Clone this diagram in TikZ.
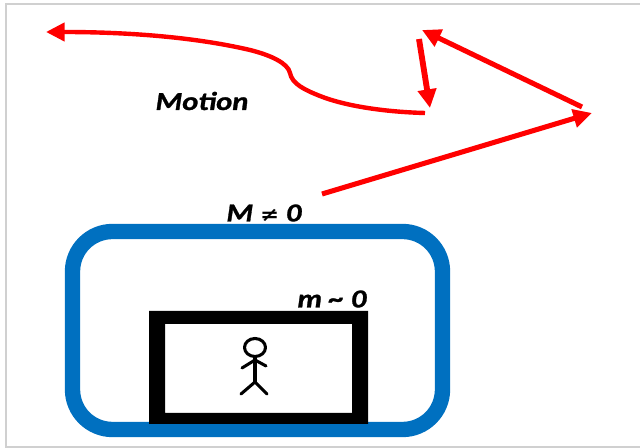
\documentclass[tikz,border=0pt]{standalone}
\usepackage{fontspec}
\newfontfamily\lblfont{Carlito Bold Italic}[FakeBold=1]
\newfontfamily\neqfont{DejaVu Sans Bold Oblique}
\usetikzlibrary{arrows.meta}
\definecolor{motionred}{RGB}{255,0,0}
\definecolor{hullblue}{RGB}{0,112,192}
\definecolor{framegray}{RGB}{208,208,208}
\tikzset{
  motion/.style={draw=motionred,line width=3.8pt,-{Triangle[length=14pt,width=13.5pt]}},
  hull/.style={draw=hullblue,line width=11.5pt,rounded corners=30pt},
  stick/.style={draw=black,line width=2.3pt,line cap=round,line join=round},
  lbl/.style={font=\fontsize{19.4pt}{21pt}\lblfont,inner sep=0pt,xscale=1.18,transform shape},
}
\begin{document}
\begin{tikzpicture}[x=0.75pt,y=-0.75pt]
\useasboundingbox (0,0) rectangle (640,448);
\fill[white] (0,0) rectangle (640,448);
% frame
\draw[framegray,line width=1.2pt] (640,4) -- (6,4) -- (6,447) -- (640,447);
% hull and cabin
\draw[hull] (72.5,231.5) rectangle (442.5,429.5);
\fill[black,even odd rule] (149,311) rectangle (368,424) (165,324) rectangle (352,413);
% person
\coordinate (neck) at (255,360);
\coordinate (hip) at (255,382);
\draw[stick] (255,347.5) ellipse[x radius=10.5,y radius=9];
\draw[stick] (255,357) -- (hip);
\draw[stick] (242,368) -- (neck) -- (266,366);
\draw[stick] (241,394) -- (hip) -- (267,394);
% motion path
\coordinate (a1) at (425,113);
\coordinate (a2) at (46,32);
\coordinate (b1) at (419,39);
\coordinate (b2) at (430,108);
\coordinate (c1) at (582,107);
\coordinate (c2) at (422,30);
\coordinate (d1) at (322,194);
\coordinate (d2) at (592,113);
\draw[motion,line width=3.3pt] (a1) .. controls (385,112) and (345,106) .. (320,96)
  .. controls (305,90) and (292,84) .. (290,73)
  .. controls (288,63) and (270,55) .. (250,50)
  .. controls (190,36) and (120,32) .. (a2);
\draw[motion,line width=4.4pt] (b1) -- (b2);
\draw[motion] (c1) -- (c2);
\draw[motion] (d1) -- (d2);
% labels
\node[lbl] (motionlabel) at (202,101) {Motion};
\node[lbl] (bigm) at (264,213) {M {\neqfont\fontsize{14.5pt}{16pt}\selectfont ≠} 0};
\node[lbl] (smallm) at (332,299) {m \char`\~{} 0};
\end{tikzpicture}
\end{document}
